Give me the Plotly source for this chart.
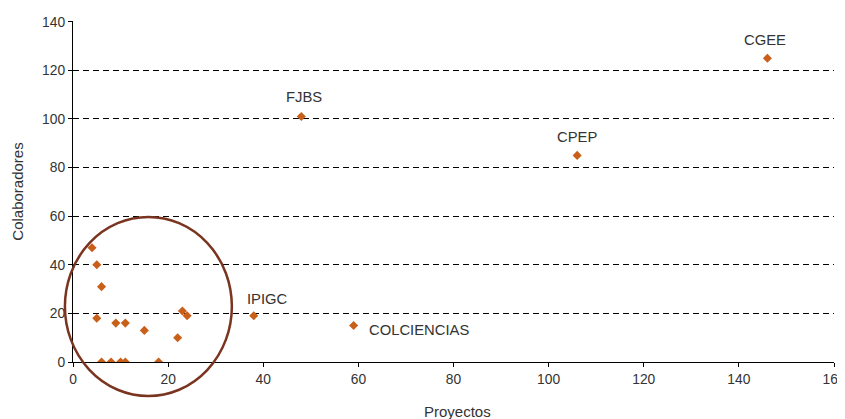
import plotly.graph_objects as go

# Data
proyectos = [146, 48, 106, 38, 59, 4, 5, 6, 5, 9, 11, 15, 22, 23, 24, 6, 8, 10, 11, 18]
colaboradores = [125, 101, 85, 19, 15, 47, 40, 31, 18, 16, 16, 13, 10, 21, 19, 0, 0, 0, 0, 0]

label_names = ["CGEE", "FJBS", "CPEP", "IPIGC", "COLCIENCIAS"]
label_x = [146, 48, 106, 38, 59]
label_y = [125, 101, 85, 19, 15]

x_range = [0, 160]
y_range = [0, 140.3]
y_ticks = [0, 20, 40, 60, 80, 100, 120, 140]

# highlight ellipse (data units)
circle_x = [-1.7, 33.4]
circle_y = [-14.0, 59.7]

marker_color = "#c8601a"
text_color = "#333333"
FONT = "Liberation Sans, Arial, sans-serif"

fig = go.Figure()
fig.add_trace(go.Scatter(
    x=proyectos, y=colaboradores, mode="markers",
    marker=dict(symbol="diamond", size=7, color=marker_color),
    hoverinfo="x+y", showlegend=False,
))

shifts = {
    "CGEE": dict(xshift=-2, yshift=18, xanchor="center"),
    "FJBS": dict(xshift=3, yshift=20, xanchor="center"),
    "CPEP": dict(xshift=0, yshift=18, xanchor="center"),
    "IPIGC": dict(xshift=14, yshift=17, xanchor="center"),
    "COLCIENCIAS": dict(xshift=13, yshift=-4, xanchor="left"),
}
for name, lx, ly in zip(label_names, label_x, label_y):
    s = shifts[name]
    fig.add_annotation(x=lx, y=ly, text=name, showarrow=False,
                       xshift=s["xshift"], yshift=s["yshift"], xanchor=s["xanchor"],
                       yanchor="middle",
                       font=dict(family=FONT, size=14.8, color=text_color))

# x-axis title
fig.add_annotation(x=0.5053, y=-0.1466, xref="paper", yref="paper", text="Proyectos",
                   showarrow=False, xanchor="center", yanchor="middle",
                   font=dict(family=FONT, size=15, color=text_color))

def to_paper(v, r):
    return (v - r[0]) / (r[1] - r[0])

fig.add_shape(type="circle", xref="paper", yref="paper",
              x0=to_paper(circle_x[0], x_range), x1=to_paper(circle_x[1], x_range),
              y0=to_paper(circle_y[0], y_range), y1=to_paper(circle_y[1], y_range),
              line=dict(color="#7a3520", width=2.5), layer="above")

axis_font = dict(family=FONT, size=13.8, color=text_color)
fig.update_layout(
    width=837, height=411,
    margin=dict(l=65, r=11, t=13, b=57, autoexpand=False),
    paper_bgcolor="white", plot_bgcolor="white",
    font=axis_font,
    xaxis=dict(range=x_range, dtick=20, showgrid=False, zeroline=False, automargin=False,
               showline=True, linecolor="#000000", linewidth=1.2,
               ticks="outside", ticklen=4, tickcolor="#000000",
               ticklabeloverflow="allow",
               tickfont=axis_font),
    yaxis=dict(range=y_range, tickvals=y_ticks, showgrid=True, gridcolor="#000000",
               griddash="6px,4px", gridwidth=1, zeroline=False, automargin=False,
               showline=True, linecolor="#000000", linewidth=1.2,
               ticks="outside", ticklen=4, tickcolor="#000000",
               ticklabeloverflow="allow",
               tickfont=axis_font,
               title=dict(text="Colaboradores", font=dict(family=FONT, size=15, color=text_color), standoff=14)),
)

fig.write_html(
    "out.html",
    post_script="document.documentElement.style.overflow='hidden';document.body.style.overflow='hidden';",
)
